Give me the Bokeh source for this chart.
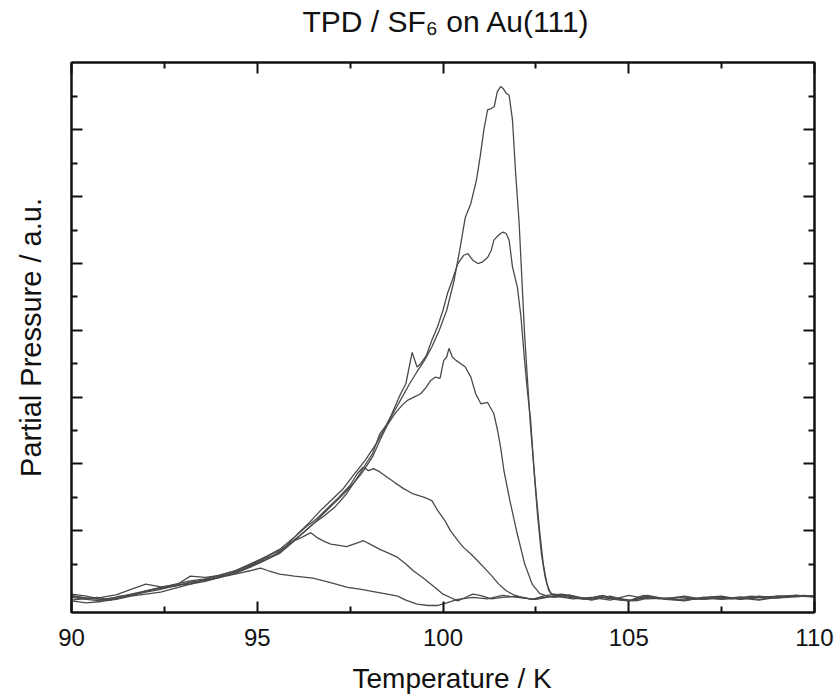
from bokeh.plotting import figure
from bokeh.models import LinearAxis, FixedTicker, Range1d, CustomJSTickFormatter, Title
from bokeh.embed import file_html
from bokeh.resources import INLINE

# ---------------- data ----------------
TITLE = "TPD / SF\u2086 on Au(111)"
X_LABEL = "Temperature / K"
Y_LABEL = "Partial Pressure / a.u."
X_TICKS = [90, 95, 100, 105, 110]
X_MINOR = [92.5, 97.5, 102.5, 107.5]
Y_TICKS = [1, 2, 3, 4, 5, 6, 7]
Y_MINOR = [0.5, 1.5, 2.5, 3.5, 4.5, 5.5, 6.5, 7.5]

T1 = [90.0, 90.4, 90.8, 91.2, 91.6, 92.0, 92.4, 92.8, 93.2, 93.6, 94.0, 94.4, 94.8, 95.09, 95.3, 95.6,
      96.0, 96.5, 97.0, 97.43, 97.8, 98.2, 98.5, 98.78, 99.0, 99.3, 99.6, 99.86, 100.1, 100.4, 100.8,
      101.2, 101.6, 102.0, 102.5, 103.0, 103.5, 104.0, 104.5, 105.0, 105.5, 106.0, 106.5, 107.0, 107.5,
      108.0, 108.5, 109.0, 109.5, 110.0]
P1 = [-0.05, -0.08, -0.06, -0.03, 0.02, 0.05, 0.08, 0.14, 0.2, 0.24, 0.3, 0.35, 0.4, 0.44, 0.4, 0.35,
      0.32, 0.29, 0.22, 0.15, 0.12, 0.08, 0.05, 0.02, -0.04, -0.1, -0.12, -0.12, -0.08, -0.03, 0.0,
      -0.02, 0.03, 0.0, -0.03, 0.02, -0.02, 0.0, -0.04, 0.03, -0.02, -0.01, -0.04, 0.0, 0.02,
      -0.03, 0.0, 0.02, 0.01, 0.03]

T2 = [90.0, 90.4, 90.8, 91.2, 91.6, 92.0, 92.4, 92.8, 93.2, 93.6, 94.0, 94.4, 94.8, 95.2, 95.6, 96.0,
      96.2, 96.44, 96.6, 96.8, 96.98, 97.2, 97.4, 97.6, 97.86, 98.1, 98.3, 98.55, 98.78, 99.0, 99.2,
      99.45, 99.67, 99.85, 100.0, 100.2, 100.4, 100.6, 100.8, 101.0, 101.3, 101.6, 102.0, 102.4, 102.8,
      103.2, 103.6, 104.0, 104.5, 105.0, 105.5, 106.0, 106.5, 107.0, 107.5, 108.0, 108.5, 109.0, 109.5, 110.0]
P2 = [0.02, -0.02, 0.0, 0.04, 0.12, 0.2, 0.16, 0.18, 0.32, 0.3, 0.33, 0.4, 0.5, 0.6, 0.7, 0.85,
      0.9, 0.97, 0.9, 0.84, 0.8, 0.78, 0.76, 0.8, 0.85, 0.78, 0.72, 0.66, 0.6, 0.5, 0.4,
      0.3, 0.2, 0.12, 0.05, 0.0, -0.05, 0.0, 0.05, 0.03, -0.02, 0.0, 0.02, -0.03, 0.01,
      0.04, 0.0, -0.04, 0.02, -0.05, 0.0, -0.02, 0.02, -0.03, 0.0, -0.02, 0.01, 0.0, 0.03, 0.01]

T3 = [90.0, 90.4, 90.8, 91.2, 91.6, 92.0, 92.4, 92.8, 93.2, 93.6, 94.0, 94.4, 94.8, 95.2, 95.6, 96.0,
      96.3, 96.6, 96.9, 97.2, 97.5, 97.7, 97.85, 98.0, 98.13, 98.3, 98.5, 98.7, 98.94, 99.2, 99.5,
      99.7, 99.86, 100.05, 100.2, 100.4, 100.55, 100.75, 100.93, 101.1, 101.3, 101.5, 101.7, 101.9,
      102.1, 102.4, 102.7, 103.0, 103.4, 103.8, 104.2, 104.6, 105.0, 105.5, 106.0, 106.5, 107.0,
      107.5, 108.0, 108.5, 109.0, 109.5, 110.0]
P3 = [0.05, 0.02, -0.03, 0.0, 0.05, 0.1, 0.15, 0.2, 0.25, 0.28, 0.34, 0.4, 0.48, 0.6, 0.72, 0.9,
      1.05, 1.18, 1.34, 1.5, 1.68, 1.86, 1.95, 1.9, 1.93, 1.88, 1.8, 1.72, 1.63, 1.55, 1.5,
      1.45, 1.3, 1.15, 1.0, 0.85, 0.75, 0.65, 0.55, 0.45, 0.33, 0.2, 0.1, 0.04,
      0.0, -0.03, 0.02, 0.05, 0.0, -0.03, 0.02, -0.02, -0.05, 0.03, -0.02, 0.01, -0.03,
      0.0, -0.02, 0.02, -0.01, 0.03, 0.01]

T4 = [90.0, 90.4, 90.8, 91.2, 91.6, 92.0, 92.4, 92.8, 93.2, 93.6, 94.0, 94.4, 94.8, 95.2, 95.6, 96.0,
      96.3, 96.6, 96.9, 97.2, 97.5, 97.8, 98.1, 98.3, 98.5, 98.7, 98.9, 99.04, 99.22, 99.4, 99.55,
      99.67, 99.8, 99.92, 100.02, 100.1, 100.16, 100.25, 100.35, 100.48, 100.6, 100.75, 100.88,
      101.02, 101.2, 101.37, 101.47, 101.55, 101.64, 101.8, 102.0, 102.2, 102.4, 102.6, 102.8,
      103.0, 103.4, 103.8, 104.2, 104.6, 105.0, 105.4, 105.8, 106.3, 106.8, 107.3, 107.8, 108.3,
      108.8, 109.3, 109.7, 110.0]
P4 = [0.0, -0.03, -0.05, -0.02, 0.03, 0.08, 0.12, 0.18, 0.2, 0.27, 0.32, 0.36, 0.45, 0.55, 0.68, 0.86,
      1.0, 1.15, 1.32, 1.48, 1.65, 1.85, 2.1, 2.35, 2.58, 2.75, 2.88, 2.95, 3.0, 3.05, 3.15,
      3.25, 3.3, 3.28, 3.55, 3.6, 3.73, 3.6, 3.55, 3.5, 3.45, 3.3, 3.05,
      2.9, 2.92, 2.75, 2.5, 2.25, 1.9, 1.45, 0.95, 0.5, 0.2, 0.06, 0.02,
      0.0, 0.04, -0.02, 0.01, -0.03, -0.05, 0.03, -0.02, 0.0, -0.03, 0.01, -0.02, 0.02,
      -0.01, 0.0, 0.03, 0.02]

T5 = [90.0, 90.3, 90.7, 91.0, 91.3, 91.7, 92.0, 92.4, 92.8, 93.2, 93.6, 94.0, 94.4, 94.8, 95.2, 95.5,
      95.8, 96.1, 96.4, 96.7, 97.0, 97.3, 97.6, 97.9, 98.2, 98.4, 98.6, 98.86, 99.0, 99.17, 99.3,
      99.4, 99.55, 99.7, 99.85, 100.0, 100.12, 100.25, 100.4, 100.55, 100.67, 100.8, 100.94,
      101.05, 101.2, 101.3, 101.37, 101.45, 101.55, 101.62, 101.7, 101.78, 101.87, 102.0, 102.1,
      102.18, 102.27, 102.36, 102.45, 102.55, 102.65, 102.75, 102.85, 102.95, 103.2, 103.5, 103.9,
      104.3, 104.7, 105.1, 105.5, 106.0, 106.5, 107.0, 107.5, 108.0, 108.5, 109.0, 109.5, 110.0]
P5 = [-0.04, -0.02, 0.0, -0.03, 0.02, 0.04, 0.1, 0.14, 0.17, 0.23, 0.26, 0.3, 0.38, 0.46, 0.58, 0.64,
      0.78, 0.96, 1.12, 1.3, 1.46, 1.62, 1.84, 2.05, 2.3, 2.5, 2.72, 3.05, 3.2, 3.67, 3.45,
      3.5, 3.62, 3.85, 4.05, 4.3, 4.55, 4.75, 5.0, 5.12, 5.15, 5.05, 5.0,
      5.02, 5.09, 5.2, 5.35, 5.4, 5.45, 5.47, 5.45, 5.35, 4.95, 4.65, 4.2,
      3.65, 3.1, 2.65, 1.9, 1.2, 0.65, 0.3, 0.1, 0.04, 0.05, 0.02, -0.02,
      0.03, -0.03, -0.05, 0.02, -0.03, -0.05, 0.0, -0.02, 0.01, -0.03, 0.02, 0.03, 0.02]

T6 = [90.0, 90.3, 90.6, 91.0, 91.4, 91.8, 92.2, 92.6, 93.0, 93.4, 93.8, 94.2, 94.6, 95.0, 95.3, 95.6,
      95.9, 96.2, 96.5, 96.8, 97.1, 97.4, 97.7, 97.9, 98.1, 98.3, 98.5, 98.7, 98.9, 99.1, 99.3,
      99.5, 99.7, 99.9, 100.1, 100.3, 100.45, 100.6, 100.75, 100.9, 101.0, 101.1, 101.2, 101.3,
      101.38, 101.46, 101.55, 101.62, 101.7, 101.78, 101.87, 101.95, 102.05, 102.2, 102.35, 102.5,
      102.6, 102.7, 102.8, 102.9, 103.0, 103.3, 103.6, 104.0, 104.4, 104.8, 105.2, 105.6, 106.0,
      106.5, 107.0, 107.5, 108.0, 108.5, 109.0, 109.5, 110.0]
P6 = [0.03, 0.0, -0.02, -0.04, 0.0, 0.06, 0.12, 0.15, 0.2, 0.24, 0.28, 0.34, 0.42, 0.52, 0.58, 0.66,
      0.8, 0.95, 1.1, 1.22, 1.36, 1.55, 1.8, 1.98, 2.15, 2.45, 2.6, 2.8, 3.0, 3.2, 3.38,
      3.55, 3.75, 4.0, 4.3, 4.75, 5.2, 5.69, 5.9, 6.25, 6.6, 7.0, 7.3, 7.32,
      7.35, 7.57, 7.65, 7.62, 7.55, 7.52, 7.15, 6.4, 5.6, 3.9, 2.6, 1.6,
      1.0, 0.5, 0.2, 0.06, 0.04, 0.03, 0.0, -0.03, 0.01, -0.02, -0.05, 0.0, -0.02,
      -0.04, -0.01, -0.03, -0.01, -0.04, 0.0, 0.02, 0.01]

CURVES = [(T1, P1), (T2, P2), (T3, P3), (T4, P4), (T5, P5), (T6, P6)]

# ---------------- figure ----------------
FONT = "Liberation Sans"
INK = "#111111"
p = figure(width=837, height=696, output_backend="svg", toolbar_location=None,
           x_range=Range1d(90, 110), y_range=Range1d(-0.225, 8.01),
           min_border_left=71, min_border_right=23, min_border_top=62, min_border_bottom=84)

p.xgrid.visible = False
p.ygrid.visible = False
p.outline_line_color = INK
p.outline_line_width = 2
p.background_fill_color = "white"
p.border_fill_color = "white"

blank = CustomJSTickFormatter(code="return ''")


def style_axis(ax, ticks, minor):
    ax.ticker = FixedTicker(ticks=ticks, minor_ticks=minor)
    ax.major_tick_in = 11
    ax.major_tick_out = 0
    ax.minor_tick_in = 6
    ax.minor_tick_out = 0
    ax.axis_line_width = 2
    ax.axis_line_color = INK
    ax.major_tick_line_width = 2
    ax.minor_tick_line_width = 2
    ax.major_tick_line_color = INK
    ax.minor_tick_line_color = INK


def spacer(size):
    # an invisible axis that only reserves vertical room between panels
    return LinearAxis(ticker=FixedTicker(ticks=X_TICKS), formatter=blank,
                      major_label_text_font_size="1px", major_label_standoff=0,
                      major_tick_in=0, major_tick_out=size, minor_tick_in=0, minor_tick_out=0,
                      axis_line_alpha=0, major_tick_line_alpha=0, minor_tick_line_alpha=0)


xa = p.xaxis[0]
style_axis(xa, X_TICKS, X_MINOR)
xa.major_label_text_font = FONT
xa.major_label_text_font_size = "24px"
xa.major_label_text_color = INK
xa.major_label_standoff = 16

ya = p.yaxis[0]
style_axis(ya, Y_TICKS, Y_MINOR)
ya.formatter = blank
ya.major_label_text_font_size = "1px"
ya.major_label_standoff = 0
ya.axis_label = Y_LABEL
ya.axis_label_text_font = FONT
ya.axis_label_text_font_size = "29px"
ya.axis_label_text_font_style = "normal"
ya.axis_label_text_color = INK
ya.axis_label_standoff = 25

top = LinearAxis(formatter=blank, major_label_text_font_size="1px", major_label_standoff=0)
style_axis(top, X_TICKS, X_MINOR)
p.add_layout(top, "above")
right = LinearAxis(formatter=blank, major_label_text_font_size="1px", major_label_standoff=0)
style_axis(right, Y_TICKS, Y_MINOR)
p.add_layout(right, "right")

# chart title (above) and x-axis title (below)
p.add_layout(spacer(23), "above")
p.add_layout(Title(text=TITLE, align="left", offset=231, standoff=4, text_font=FONT,
                   text_font_size="30px", text_font_style="normal", text_color=INK), "above")
p.add_layout(spacer(11), "below")
p.add_layout(Title(text=X_LABEL, align="left", offset=281, standoff=2, text_font=FONT,
                   text_font_size="28px", text_font_style="normal", text_color=INK), "below")

for t, v in CURVES:
    p.line(t, v, line_color="#4a4a4a", line_width=1.3)

open("out.html", "w").write(file_html(p, INLINE))
